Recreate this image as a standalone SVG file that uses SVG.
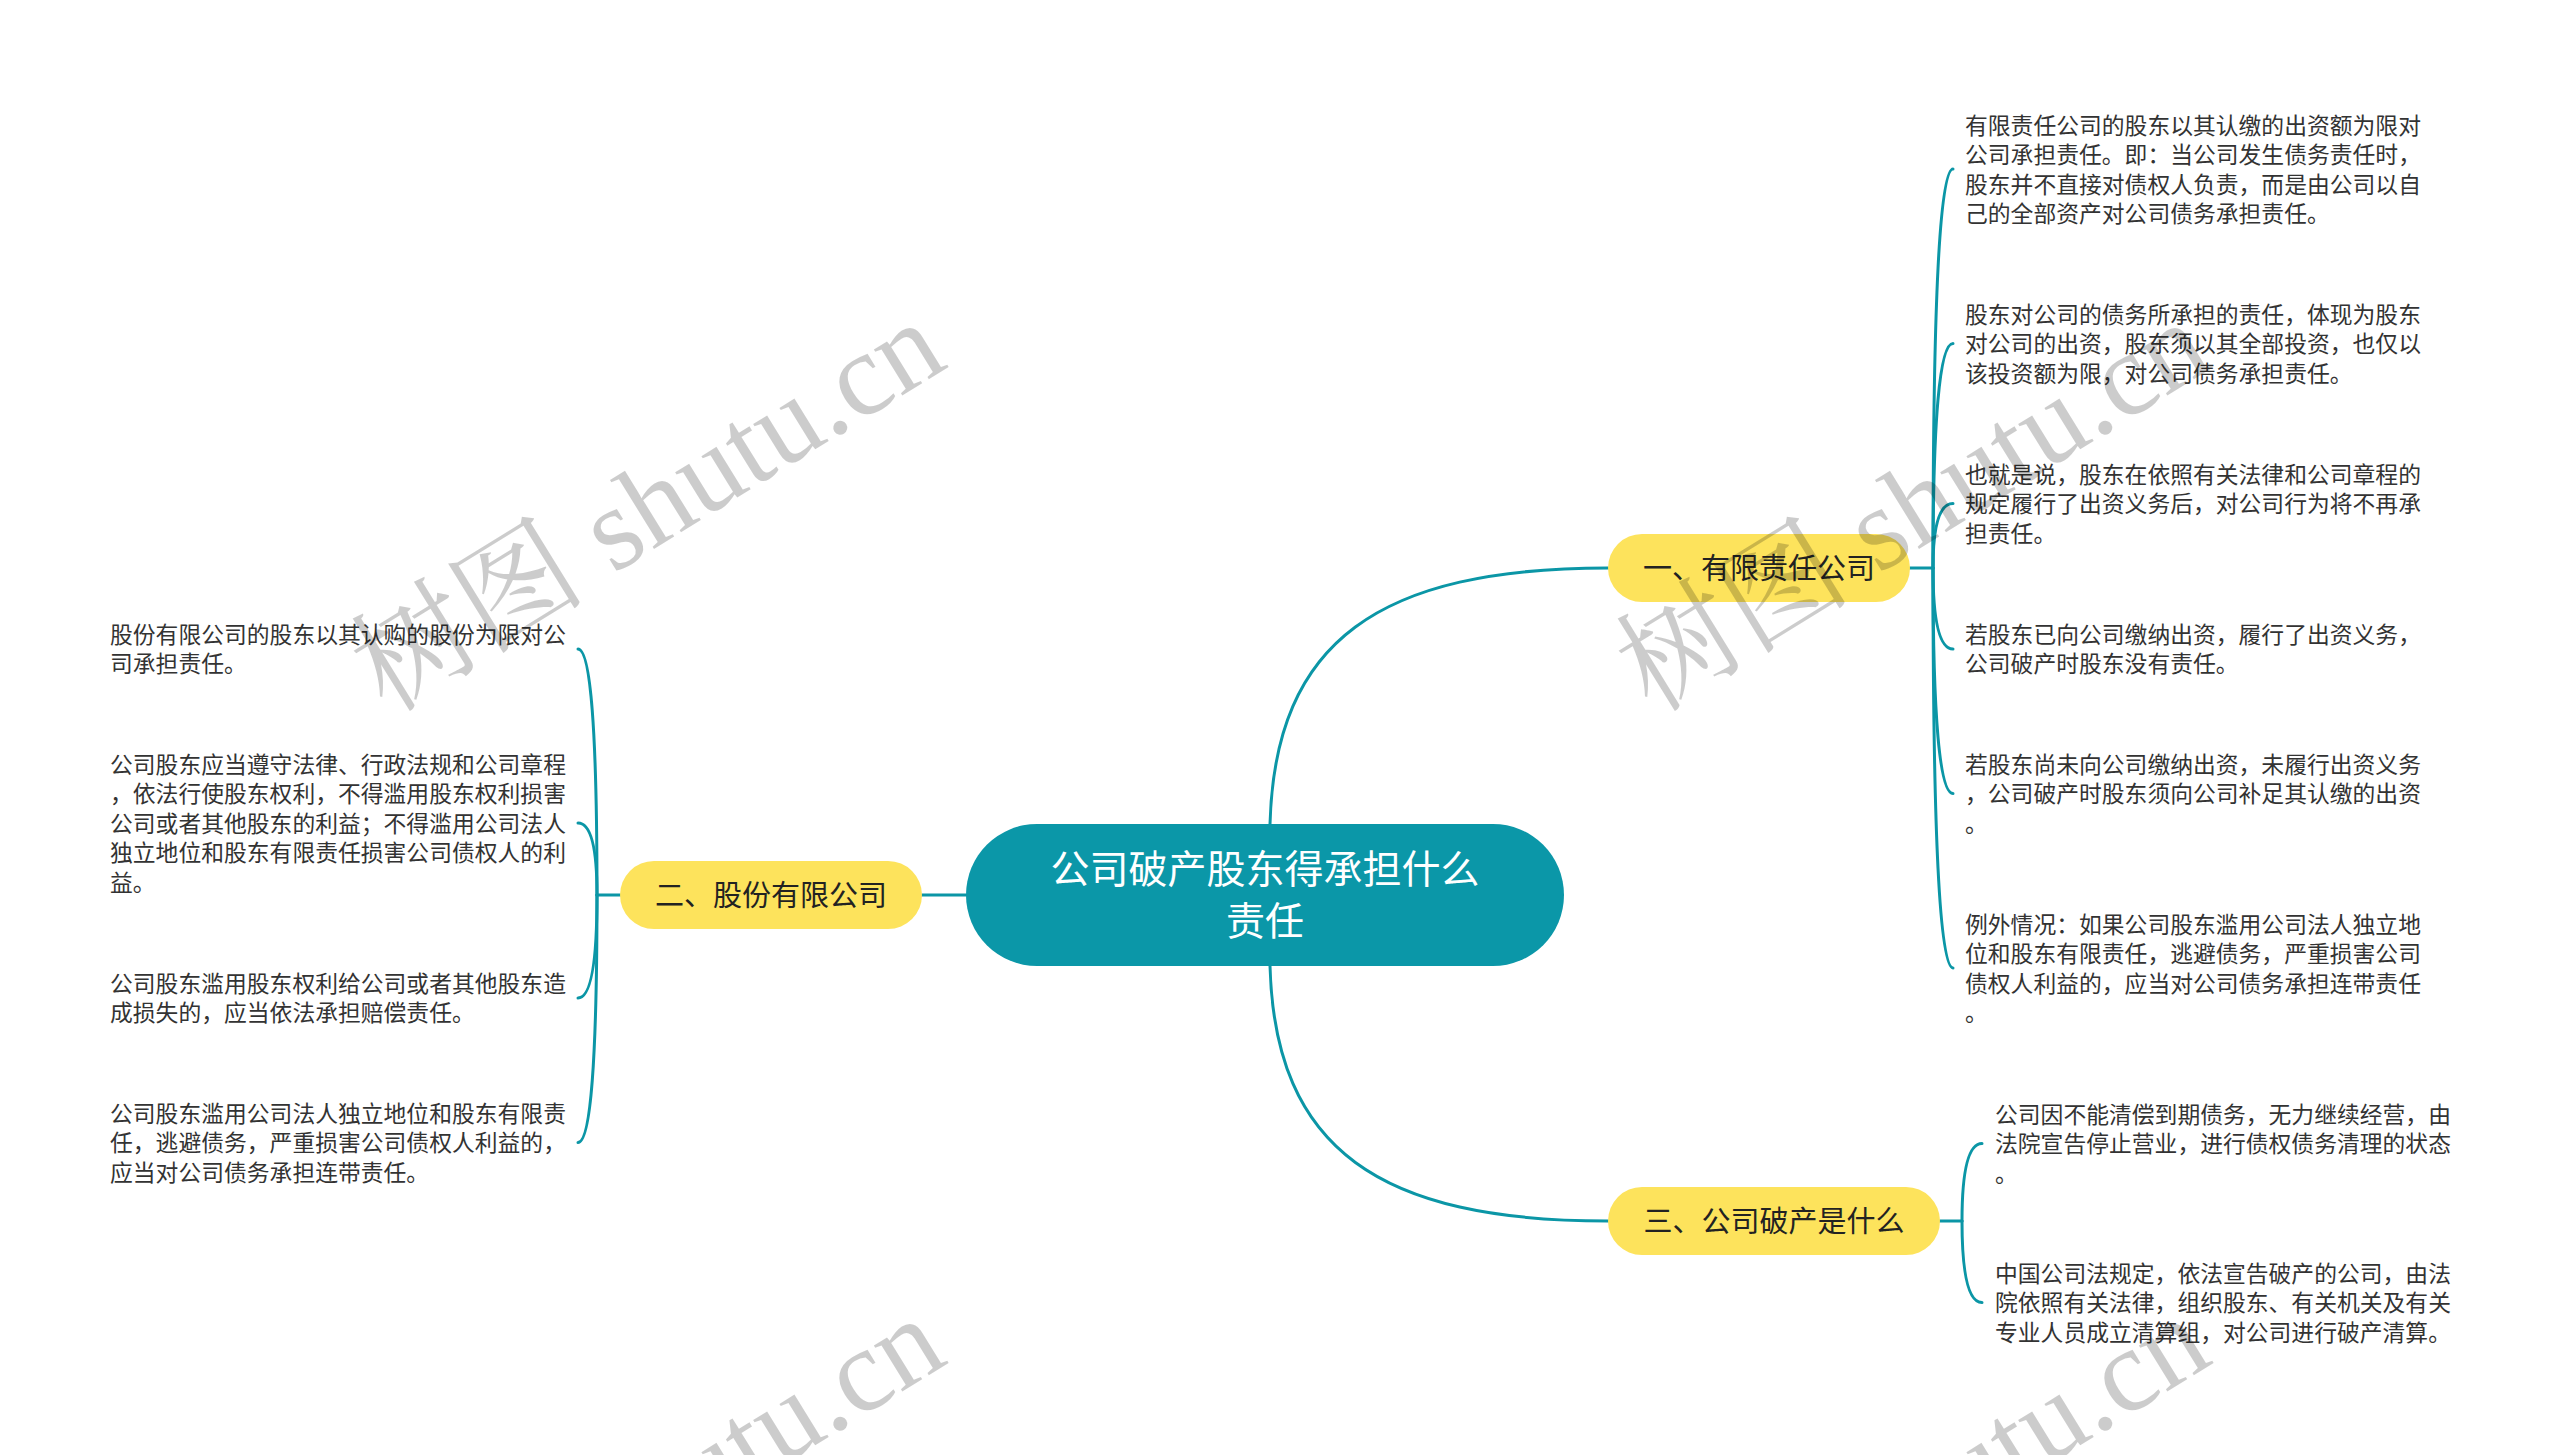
<svg xmlns="http://www.w3.org/2000/svg" width="2560" height="1455" viewBox="0 0 2560 1455">
<style>
.bg{fill:#ffffff}
.conn{fill:none;stroke:#0b96a6;stroke-width:3;stroke-linecap:round}
.root rect{fill:#0b97a8}
.root text{fill:#ffffff;font-family:"Noto Sans CJK SC","Noto Sans",sans-serif;font-size:39px;text-anchor:middle}
.main rect{fill:#fde35c}
.main text{fill:#222222;font-family:"Noto Sans CJK SC","Noto Sans",sans-serif;font-size:29px;text-anchor:middle}
.leaf text{fill:#333333;font-family:"Noto Sans CJK SC","Noto Sans",sans-serif;font-size:22.8px}
.wm text{fill:#000000;fill-opacity:0.2;font-family:"Liberation Serif","Noto Serif CJK SC","Noto Sans CJK SC",serif;font-size:118px}
</style>
<rect class="bg" x="0" y="0" width="2560" height="1455"/>
<g id="connectors">
<path class="conn" d="M1270,824 C1275,640 1380,568 1608,568"/>
<path class="conn" d="M1270,966 C1275,1150 1380,1221 1608,1221"/>
<path class="conn" d="M922,895 H966"/>
<path class="conn" d="M1910,568 H1933"/>
<path class="conn" d="M1933,568 Q1933,169 1953,169"/>
<path class="conn" d="M1933,568 Q1933,343.5 1953,343.5"/>
<path class="conn" d="M1933,568 Q1933,503.5 1953,503.5"/>
<path class="conn" d="M1933,568 Q1933,649 1953,649"/>
<path class="conn" d="M1933,568 Q1933,793.5 1953,793.5"/>
<path class="conn" d="M1933,568 Q1933,968 1953,968"/>
<path class="conn" d="M1940,1221 H1962"/>
<path class="conn" d="M1962,1221 Q1962,1143.5 1982,1143.5"/>
<path class="conn" d="M1962,1221 Q1962,1302.5 1982,1302.5"/>
<path class="conn" d="M620,895 H597"/>
<path class="conn" d="M597,895 Q597,649 578,649"/>
<path class="conn" d="M597,895 Q597,823 578,823"/>
<path class="conn" d="M597,895 Q597,998 578,998"/>
<path class="conn" d="M597,895 Q597,1142.5 578,1142.5"/>
</g>
<g id="root" class="root">
<rect x="966" y="824" width="598" height="142" rx="71" ry="71"/>
<text x="1265" y="883">公司破产股东得承担什么</text>
<text x="1265" y="935">责任</text>
</g>
<g id="n1" class="main">
<rect x="1608" y="534" width="302" height="68" rx="34" ry="34"/>
<text x="1759" y="579">一、有限责任公司</text>
</g>
<g id="n2" class="main">
<rect x="620" y="861" width="302" height="68" rx="34" ry="34"/>
<text x="771" y="906">二、股份有限公司</text>
</g>
<g id="n3" class="main">
<rect x="1608" y="1187" width="332" height="68" rx="34" ry="34"/>
<text x="1774" y="1232">三、公司破产是什么</text>
</g>
<g id="n1c1" class="leaf">
<text x="1965" y="133.5">有限责任公司的股东以其认缴的出资额为限对</text>
<text x="1965" y="163">公司承担责任。即：当公司发生债务责任时，</text>
<text x="1965" y="192.5">股东并不直接对债权人负责，而是由公司以自</text>
<text x="1965" y="222">己的全部资产对公司债务承担责任。</text>
</g>
<g id="n1c2" class="leaf">
<text x="1965" y="322.5">股东对公司的债务所承担的责任，体现为股东</text>
<text x="1965" y="352">对公司的出资，股东须以其全部投资，也仅以</text>
<text x="1965" y="381.5">该投资额为限，对公司债务承担责任。</text>
</g>
<g id="n1c3" class="leaf">
<text x="1965" y="482.5">也就是说，股东在依照有关法律和公司章程的</text>
<text x="1965" y="512">规定履行了出资义务后，对公司行为将不再承</text>
<text x="1965" y="541.5">担责任。</text>
</g>
<g id="n1c4" class="leaf">
<text x="1965" y="642.5">若股东已向公司缴纳出资，履行了出资义务，</text>
<text x="1965" y="672">公司破产时股东没有责任。</text>
</g>
<g id="n1c5" class="leaf">
<text x="1965" y="772.5">若股东尚未向公司缴纳出资，未履行出资义务</text>
<text x="1965" y="802">，公司破产时股东须向公司补足其认缴的出资</text>
<text x="1965" y="831.5">。</text>
</g>
<g id="n1c6" class="leaf">
<text x="1965" y="932.5">例外情况：如果公司股东滥用公司法人独立地</text>
<text x="1965" y="962">位和股东有限责任，逃避债务，严重损害公司</text>
<text x="1965" y="991.5">债权人利益的，应当对公司债务承担连带责任</text>
<text x="1965" y="1021">。</text>
</g>
<g id="n3c1" class="leaf">
<text x="1995" y="1122.5">公司因不能清偿到期债务，无力继续经营，由</text>
<text x="1995" y="1152">法院宣告停止营业，进行债权债务清理的状态</text>
<text x="1995" y="1181.5">。</text>
</g>
<g id="n3c2" class="leaf">
<text x="1995" y="1281.5">中国公司法规定，依法宣告破产的公司，由法</text>
<text x="1995" y="1311">院依照有关法律，组织股东、有关机关及有关</text>
<text x="1995" y="1340.5">专业人员成立清算组，对公司进行破产清算。</text>
</g>
<g id="n2c1" class="leaf">
<text x="110" y="642.5">股份有限公司的股东以其认购的股份为限对公</text>
<text x="110" y="672">司承担责任。</text>
</g>
<g id="n2c2" class="leaf">
<text x="110" y="772.5">公司股东应当遵守法律、行政法规和公司章程</text>
<text x="110" y="802">，依法行使股东权利，不得滥用股东权利损害</text>
<text x="110" y="831.5">公司或者其他股东的利益；不得滥用公司法人</text>
<text x="110" y="861">独立地位和股东有限责任损害公司债权人的利</text>
<text x="110" y="890.5">益。</text>
</g>
<g id="n2c3" class="leaf">
<text x="110" y="991.5">公司股东滥用股东权利给公司或者其他股东造</text>
<text x="110" y="1021">成损失的，应当依法承担赔偿责任。</text>
</g>
<g id="n2c4" class="leaf">
<text x="110" y="1121.5">公司股东滥用公司法人独立地位和股东有限责</text>
<text x="110" y="1151">任，逃避债务，严重损害公司债权人利益的，</text>
<text x="110" y="1180.5">应当对公司债务承担连带责任。</text>
</g>
<g id="watermark" class="wm">
<text transform="translate(387,714) rotate(-31.7)">树图 shutu.cn</text>
<text transform="translate(1652,714) rotate(-31.7)">树图 shutu.cn</text>
<text transform="translate(387,1710) rotate(-31.7)">树图 shutu.cn</text>
<text transform="translate(1652,1710) rotate(-31.7)">树图 shutu.cn</text>
</g>
</svg>
